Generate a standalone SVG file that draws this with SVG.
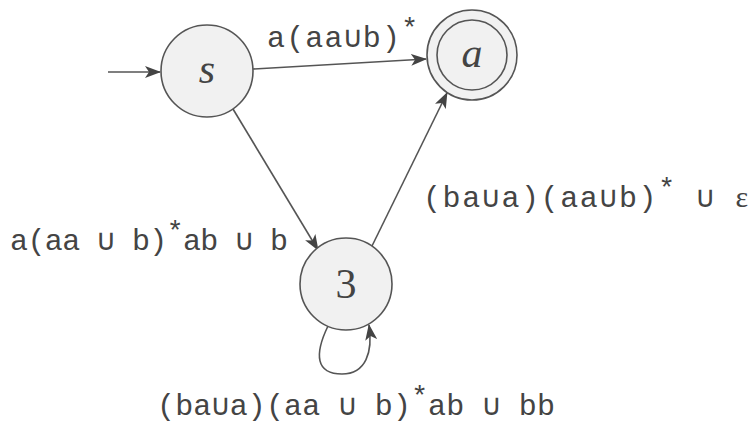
<svg xmlns="http://www.w3.org/2000/svg" width="754" height="435" viewBox="0 0 754 435">
<style>
.node{fill:#f1f1f1;stroke:#555;stroke-width:1.6}
.edge{fill:none;stroke:#555;stroke-width:1.6}
.nl{font-family:"Liberation Serif","DejaVu Serif",serif;font-size:42px;fill:#444;text-anchor:middle}
.lab{font-family:"Liberation Mono","DejaVu Sans Mono",monospace;font-size:30px;fill:#444}
.sup{font-size:28px}
</style>
<defs>
<marker id="arr" markerUnits="userSpaceOnUse" markerWidth="16" markerHeight="12" refX="15" refY="6" orient="auto">
<path d="M0,0 L16,6 L0,12 L4,6 Z" fill="#444"/>
</marker>
</defs>
<rect width="754" height="435" fill="#ffffff"/>
<g id="connectors">
<line class="edge" x1="108" y1="72" x2="160" y2="72" marker-end="url(#arr)"/>
<line class="edge" x1="253" y1="69" x2="426" y2="59" marker-end="url(#arr)"/>
<line class="edge" x1="233" y1="109" x2="318" y2="250" marker-end="url(#arr)"/>
<line class="edge" x1="372" y1="246" x2="447" y2="93" marker-end="url(#arr)"/>
<path class="edge" d="M328,326 C314,355 316,374 342,374 C366,374 373,352 369,325" marker-end="url(#arr)"/>
</g>
<g id="node-s">
<circle class="node" cx="207" cy="71" r="46"/>
<text class="nl" x="207" y="83" font-style="italic">s</text>
</g>
<g id="node-a">
<circle class="node" cx="472" cy="55" r="45"/>
<circle class="node" cx="472" cy="55" r="35"/>
<text class="nl" x="472" y="67" font-style="italic">a</text>
</g>
<g id="node-3">
<circle class="node" cx="346" cy="284" r="46"/>
<text class="nl" x="346" y="298">3</text>
</g>
<g id="labels">
<text class="lab" x="267" y="47" textLength="151">a(aa∪b)<tspan class="sup" dy="-10">*</tspan></text>
<text class="lab" x="10" y="250" textLength="278">a(aa ∪ b)<tspan class="sup" dy="-10">*</tspan><tspan dy="10">ab ∪ b</tspan></text>
<text class="lab" x="423" y="207" textLength="325">(ba∪a)(aa∪b)<tspan class="sup" dy="-10">*</tspan><tspan dy="10"> ∪ </tspan><tspan font-family="Liberation Serif,serif">ε</tspan></text>
<text class="lab" x="157" y="415" textLength="398">(ba∪a)(aa ∪ b)<tspan class="sup" dy="-10">*</tspan><tspan dy="10">ab ∪ bb</tspan></text>
</g>
</svg>
